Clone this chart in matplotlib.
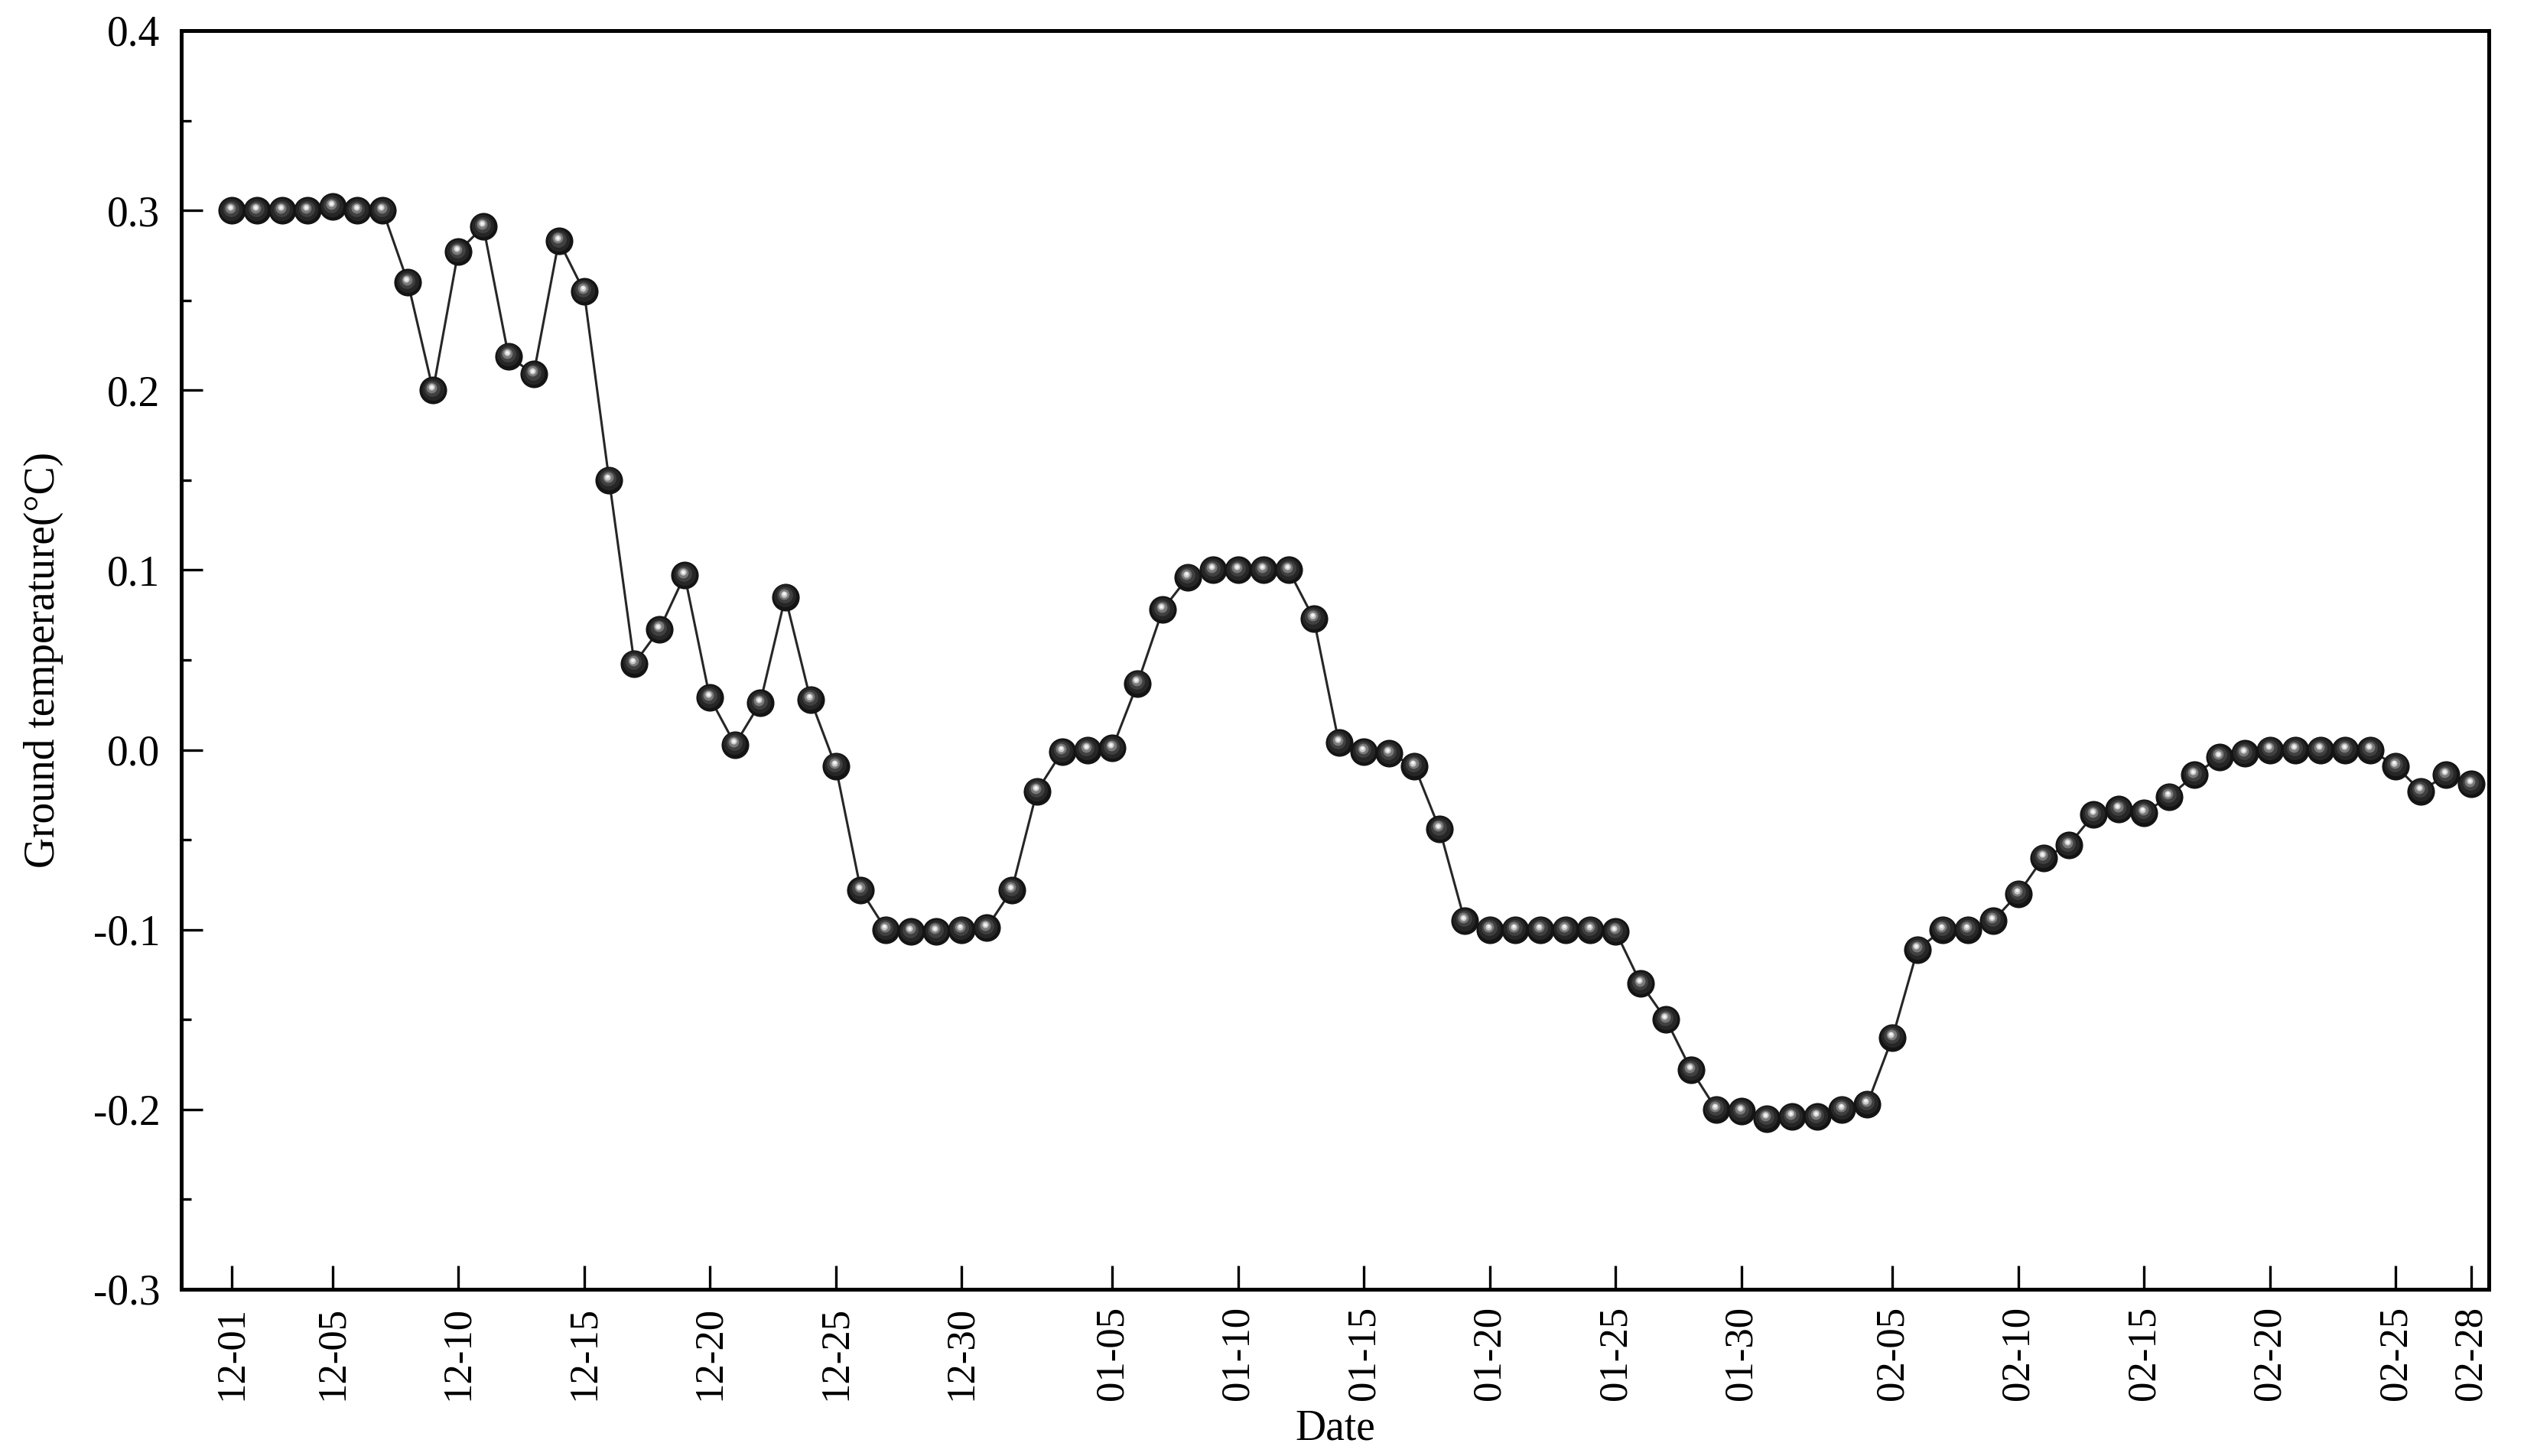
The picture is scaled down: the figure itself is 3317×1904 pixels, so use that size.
import numpy as np
import pandas as pd
import matplotlib
matplotlib.use("Agg")
import matplotlib.pyplot as plt
import matplotlib.ticker as mticker
import matplotlib.transforms as mtrans

plt.rcParams['font.family'] = ['Liberation Serif', 'DejaVu Serif']
plt.rcParams['axes.unicode_minus'] = False

# daily ground temperature, 12-01 .. 02-28
temp = [0.300, 0.300, 0.300, 0.300, 0.302, 0.300, 0.300, 0.260, 0.200, 0.277,
        0.291, 0.219, 0.209, 0.283, 0.255, 0.150, 0.048, 0.067, 0.097, 0.029,
        0.003, 0.026, 0.085, 0.028, -0.009, -0.078, -0.100, -0.101, -0.101, -0.100,
        -0.099, -0.078, -0.023, -0.001, 0.000, 0.001, 0.037, 0.078, 0.096, 0.100,
        0.100, 0.100, 0.100, 0.073, 0.004, -0.001, -0.002, -0.009, -0.044, -0.095,
        -0.100, -0.100, -0.100, -0.100, -0.100, -0.101, -0.130, -0.150, -0.178, -0.200,
        -0.201, -0.205, -0.204, -0.204, -0.200, -0.197, -0.160, -0.111, -0.100, -0.100,
        -0.095, -0.080, -0.060, -0.053, -0.036, -0.033, -0.035, -0.026, -0.014, -0.004,
        -0.002, 0.000, 0.000, 0.000, 0.000, 0.000, -0.009, -0.023, -0.014, -0.019]

dates = pd.date_range("2020-12-01", periods=len(temp)).strftime("%m-%d").tolist()

tick_labels = ["12-01", "12-05", "12-10", "12-15", "12-20", "12-25", "12-30",
               "01-05", "01-10", "01-15", "01-20", "01-25", "01-30",
               "02-05", "02-10", "02-15", "02-20", "02-25", "02-28"]

x = np.arange(len(temp))
tick_pos = [dates.index(t) for t in tick_labels]

fig = plt.figure(figsize=(3317 / 200, 1904 / 200), dpi=200)
ax = fig.add_axes([0.0715, 0.1145, 0.9095, 0.8645])

ax.plot(x, temp, color='#262626', lw=1.1, zorder=2)

# fake "sphere" markers: dark ball + lighter layers shifted up-left
layers = [(13.0, '#141414', 0.0, 0.0),
          (10.5, '#262626', -0.2, 0.5),
          (7.5, '#404040', -0.4, 0.9),
          (5.0, '#7a7a7a', -0.6, 1.3),
          (3.0, '#c8c8c8', -0.7, 1.5),
          (1.6, '#f4f4f4', -0.7, 1.6)]
for size, col, dx, dy in layers:
    off = mtrans.offset_copy(ax.transData, fig=fig, x=dx, y=dy, units='points')
    ax.plot(x, temp, ls='none', marker='o', ms=size, mfc=col, mec='none',
            transform=off, zorder=3)

ax.set_xlim(-2.0, 89.7)
ax.set_ylim(-0.3, 0.4)
ax.set_xticks(tick_pos)
ax.set_xticklabels(tick_labels, rotation=90)
ax.yaxis.set_major_locator(mticker.MultipleLocator(0.1))
ax.yaxis.set_minor_locator(mticker.MultipleLocator(0.05))
ax.yaxis.set_major_formatter(mticker.FormatStrFormatter('%.1f'))

ax.tick_params(axis='x', direction='in', length=11, width=1.2, labelsize=19, pad=8)
ax.tick_params(axis='y', which='major', direction='in', length=10, width=1.2,
               labelsize=20, pad=10)
ax.tick_params(axis='y', which='minor', direction='in', length=4.5, width=1.2)
for s in ax.spines.values():
    s.set_linewidth(1.8)

ax.set_xlabel("Date", fontsize=20, labelpad=4)
ax.set_ylabel("Ground temperature(°C)", fontsize=20, labelpad=14)

fig.savefig("out.png", dpi=200)
